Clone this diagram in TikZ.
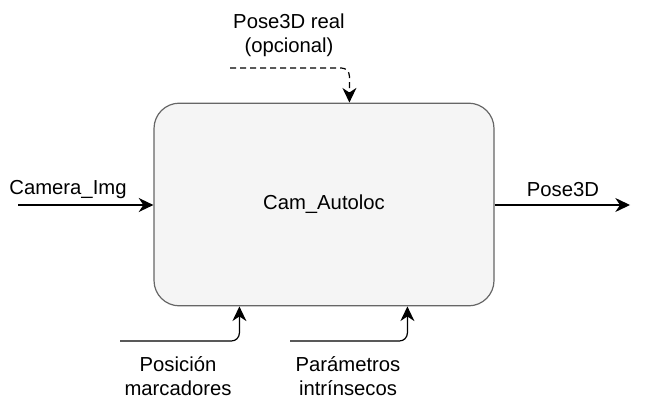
\documentclass[tikz,border=0pt]{standalone}
\usepackage{fontspec}
\setmainfont{Liberation Sans}
\usetikzlibrary{arrows.meta,calc}
\begin{document}
\begin{tikzpicture}[x=0.75pt,y=-0.75pt,
  every node/.style={font=\fontsize{15.2}{18}\selectfont, inner sep=0pt},
  block/.style={draw=black!60, fill=black!4, line width=0.9pt, rounded corners=19pt, minimum width=255pt, minimum height=152pt},
  lbl/.style={align=center},
  conn/.style={line width=0.9pt, -{Stealth[length=11pt,width=10.5pt,inset=3.5pt]}, rounded corners=6pt}]
\useasboundingbox (0,0) rectangle (645,410);
\node[block] (box) at (324,204.5) {Cam\_Autoloc};
% inputs / outputs
\coordinate (inL) at (18,205);
\coordinate (outR) at (630,205);
\coordinate (topS) at (230,68);
\coordinate (bl1) at (120,341);
\coordinate (bl2) at (290,341);
\draw[conn] (inL) -- (inL -| box.west);
\draw[conn] (box.east |- outR) -- (outR);
\draw[conn, dashed, dash pattern=on 4.5pt off 3pt] (topS) -| ($(box.north west)+(196,0)$);
\draw[conn] (bl1) -| ($(box.south west)+(86,0)$);
\draw[conn] (bl2) -| ($(box.south west)+(254,0)$);
% labels
\node[lbl] (lcam) at (68,190) {Camera\_Img};
\node[lbl] (lpose) at (563,190) {Pose3D};
\node[lbl] (lreal) at (289,35) {Pose3D real\\(opcional)};
\node[lbl] (lpos) at (178,376) {Posición\\marcadores};
\node[lbl] (lpar) at (348,376) {Parámetros\\intrínsecos};
\end{tikzpicture}
\end{document}
